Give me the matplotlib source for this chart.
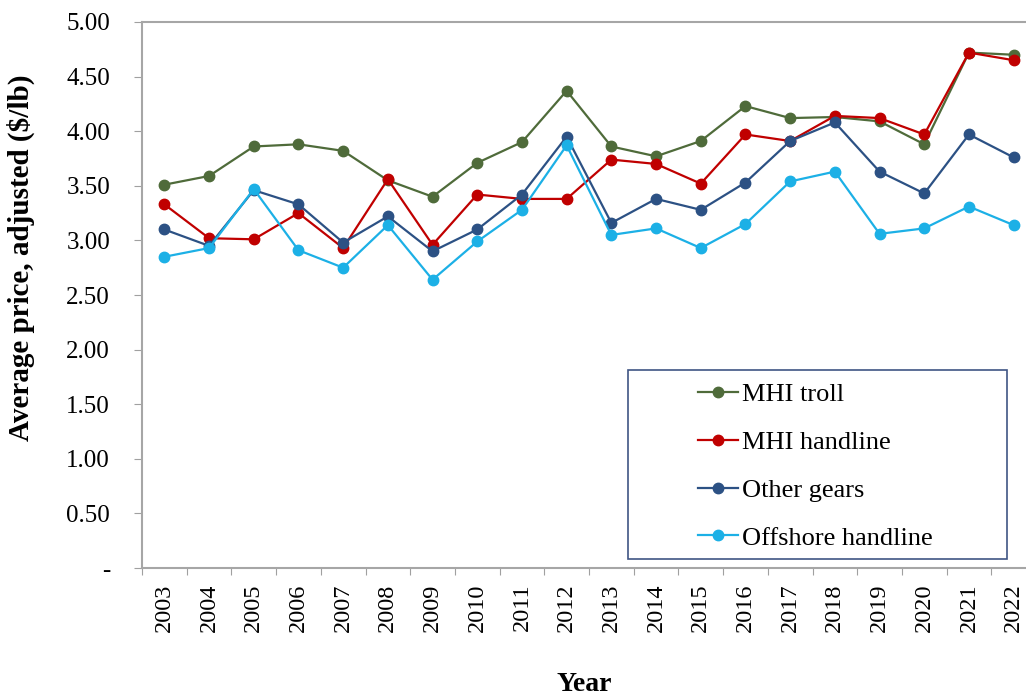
import matplotlib.pyplot as plt
import matplotlib.ticker as mticker
from matplotlib.patches import Rectangle

years = list(range(2003, 2023))
mhi_troll = [3.51, 3.59, 3.86, 3.88, 3.82, 3.55, 3.40, 3.71, 3.90, 4.37,
             3.86, 3.77, 3.91, 4.23, 4.12, 4.13, 4.09, 3.88, 4.72, 4.70]
mhi_handline = [3.33, 3.02, 3.01, 3.25, 2.93, 3.56, 2.96, 3.42, 3.38, 3.38,
                3.74, 3.70, 3.52, 3.97, 3.91, 4.14, 4.12, 3.97, 4.72, 4.65]
other_gears = [3.10, 2.95, 3.46, 3.33, 2.98, 3.22, 2.90, 3.10, 3.42, 3.95,
               3.16, 3.38, 3.28, 3.53, 3.91, 4.08, 3.63, 3.43, 3.97, 3.76]
offshore_handline = [2.85, 2.93, 3.47, 2.91, 2.75, 3.14, 2.64, 2.99, 3.28, 3.87,
                     3.05, 3.11, 2.93, 3.15, 3.54, 3.63, 3.06, 3.11, 3.31, 3.14]

series = [("MHI troll", mhi_troll, "#4F6B3A"),
          ("MHI handline", mhi_handline, "#C00000"),
          ("Other gears", other_gears, "#2C5184"),
          ("Offshore handline", offshore_handline, "#1CB0E6")]

plt.rcParams['font.family'] = ['Liberation Serif', 'DejaVu Serif']

W, H = 1026, 697
fig = plt.figure(figsize=(W/100, H/100), dpi=100)
# plot area in pixels: left 142, top 22, bottom 568; right edge runs off the image
x0, y0, aw, ah = 142, 568, 894, 546
ax = fig.add_axes([x0/W, 1-y0/H, aw/W, ah/H])

def px(x, y):
    # pixel position -> axes fraction
    return (x - x0)/aw, (y0 - y)/ah

for name, vals, col in series:
    ax.plot(years, vals, color=col, lw=1.6, marker="o", ms=7.5, label=name)

ax.set_xlim(2002.5, 2022.5)
ax.set_ylim(0, 5)
ax.set_yticks([i*0.5 for i in range(11)])
ax.yaxis.set_major_formatter(mticker.FuncFormatter(lambda v, p: "-" if v == 0 else "%.2f" % v))

ax.set_xticks([y + 0.5 for y in range(2002, 2023)])
ax.set_xticklabels([])
ax.set_xticks(years, minor=True)
ax.set_xticklabels([str(y) for y in years], minor=True, rotation=90, fontsize=17.5)
ax.tick_params(axis="x", which="minor", length=0, pad=11)
ax.tick_params(axis="x", which="major", length=5, color="#a0a0a0")
ax.tick_params(axis="y", length=6, color="#a0a0a0", labelsize=18, pad=17)

for s in ["left", "bottom", "top"]:
    ax.spines[s].set_color("#a6a6a6")
    ax.spines[s].set_linewidth(1.5)
ax.spines["right"].set_visible(False)

ax.set_ylabel("Average price, adjusted ($/lb)", fontsize=21, fontweight="bold")
ax.yaxis.set_label_coords(*px(35, 258))
ax.set_xlabel("Year", fontsize=20, fontweight="bold")
ax.xaxis.set_label_coords(*px(584, 672))

# legend box
bx, by = px(628, 559)
bx2, by2 = px(1007, 370)
ax.add_patch(Rectangle((bx, by), bx2 - bx, by2 - by, transform=ax.transAxes,
                       facecolor="white", edgecolor="#3F5584", lw=1.2, zorder=5))
leg = ax.legend(loc="upper left", bbox_to_anchor=px(698, 383), fontsize=19, frameon=False,
                borderpad=0, borderaxespad=0, handlelength=1.5, handletextpad=0.15,
                labelspacing=0.92)
leg.set_zorder(6)

plt.savefig("out.png", dpi=100)
